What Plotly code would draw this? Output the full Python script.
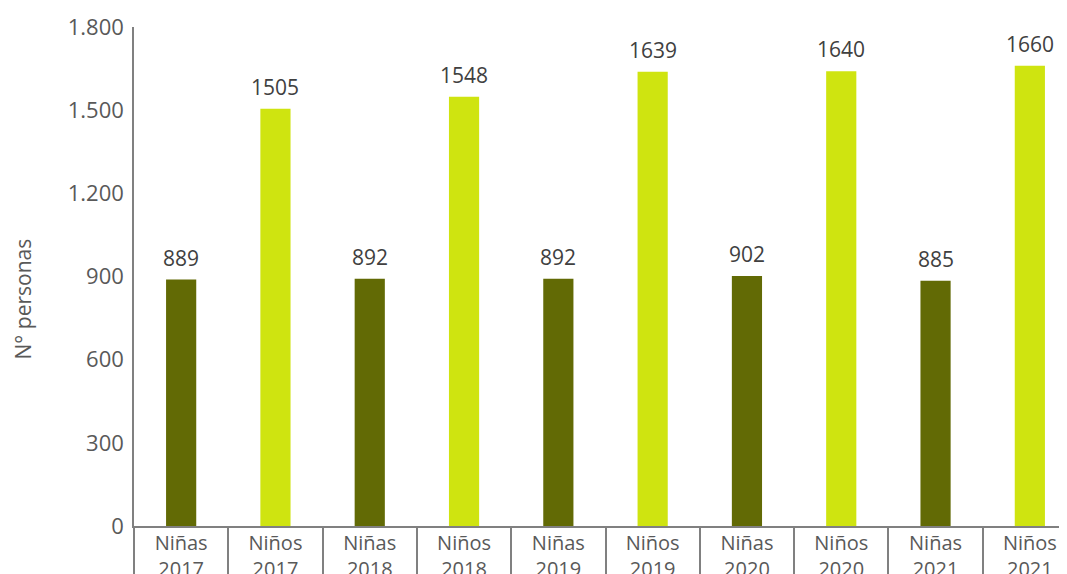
import plotly.graph_objs as go

# categories and values
categories = [
    "Niñas<br>2017", "Niños<br>2017",
    "Niñas<br>2018", "Niños<br>2018",
    "Niñas<br>2019", "Niños<br>2019",
    "Niñas<br>2020", "Niños<br>2020",
    "Niñas<br>2021", "Niños<br>2021",
]
values = [889, 1505, 892, 1548, 892, 1639, 902, 1640, 885, 1660]
y_ticks = [0, 300, 600, 900, 1200, 1500, 1800]

DARK = "#626a05"
LIME = "#cfe410"
colors = [DARK if c.startswith("Niñas") else LIME for c in categories]

FONT = "Open Sans, DejaVu Sans, sans-serif"
GREY = "#595959"

trace = go.Bar(
    x=categories,
    y=values,
    marker=dict(color=colors, line=dict(width=0)),
    width=0.32,
    showlegend=False,
    hoverinfo="x+y",
)

fig = go.Figure(trace)

# value labels above the bars
labels = [
    dict(
        x=c,
        y=v,
        text=str(v),
        xref="x",
        yref="y",
        yanchor="bottom",
        yshift=6,
        showarrow=False,
        font=dict(family=FONT, size=21, color="#404040"),
    )
    for c, v in zip(categories, values)
]

labels.append(
    dict(
        text="N° personas",
        textangle=-90,
        xref="paper",
        yref="paper",
        x=-0.1195,
        y=0.455,
        xanchor="center",
        yanchor="middle",
        showarrow=False,
        font=dict(family=FONT, size=21, color=GREY),
    )
)

# the page body has an 8px margin, so the figure is 8px smaller
fig.update_layout(
    width=1059,
    height=566,
    margin=dict(l=126, r=0, t=19, b=48),
    paper_bgcolor="white",
    plot_bgcolor="white",
    separators=",.",
    font=dict(family=FONT, size=20, color=GREY),
    xaxis=dict(
        type="category",
        range=[-0.5, 9.394],
        automargin=False,
        showline=True,
        linecolor="#808080",
        linewidth=1.5,
        ticks="outside",
        tickson="boundaries",
        ticklen=60,
        tickcolor="#808080",
        tickwidth=1.5,
        ticklabelstandoff=-2,
        tickfont=dict(family=FONT, size=20, color=GREY),
        showgrid=False,
        zeroline=False,
    ),
    yaxis=dict(
        range=[0, 1800],
        automargin=False,
        tickvals=y_ticks,
        tickformat=",d",
        showline=True,
        linecolor="#808080",
        linewidth=1.5,
        ticks="",
        ticklabelstandoff=4,
        tickfont=dict(family=FONT, size=22, color=GREY),
        showgrid=False,
        zeroline=False,
    ),
    annotations=labels,
)

fig.write_html("out.html")
